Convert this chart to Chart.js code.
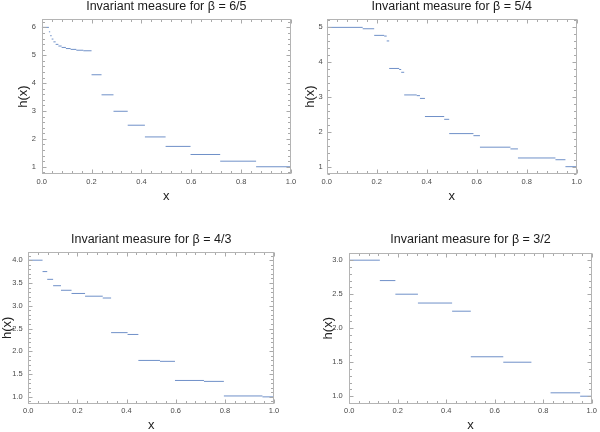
<!DOCTYPE html>
<html><head><meta charset="utf-8">
<script src="https://cdn.jsdelivr.net/npm/chart.js@4.4.0/dist/chart.umd.min.js"></script>
<style>
html,body{margin:0;padding:0;background:#fff;width:600px;height:432px;overflow:hidden}
canvas{position:absolute}
</style></head><body>
<canvas id="c1" width="300" height="216" style="left:0;top:0"></canvas>
<canvas id="c2" width="300" height="216" style="left:300px;top:0"></canvas>
<canvas id="c3" width="300" height="216" style="left:0;top:216px"></canvas>
<canvas id="c4" width="300" height="216" style="left:300px;top:216px"></canvas>
<script>
// ---- data ----
const xTicks = [0, 0.2, 0.4, 0.6, 0.8, 1.0];

const p1Title = 'Invariant measure for β = 6/5';
const p1Start = [0, 0.029, 0.034, 0.040, 0.047, 0.056, 0.067, 0.080, 0.097, 0.116, 0.139, 0.167, 0.200, 0.240, 0.288, 0.345, 0.414, 0.497, 0.597, 0.716, 0.860];
const p1End   = [0.029, 0.034, 0.040, 0.047, 0.056, 0.067, 0.080, 0.097, 0.116, 0.139, 0.167, 0.200, 0.240, 0.288, 0.345, 0.414, 0.497, 0.597, 0.716, 0.860, 1.0];
const p1Value = [6.0, 5.84, 5.70, 5.58, 5.48, 5.39, 5.33, 5.28, 5.24, 5.21, 5.18, 5.16, 4.30, 3.58, 2.99, 2.49, 2.07, 1.73, 1.44, 1.20, 1.0];
const p1YTicks = [1, 2, 3, 4, 5, 6];

const p2Title = 'Invariant measure for β = 5/4';
const p2Start = [0, 0.144, 0.190, 0.230, 0.240, 0.250, 0.290, 0.298, 0.310, 0.360, 0.373, 0.393, 0.470, 0.490, 0.587, 0.613, 0.735, 0.765, 0.915, 0.955];
const p2End   = [0.144, 0.190, 0.230, 0.240, 0.250, 0.290, 0.298, 0.310, 0.360, 0.373, 0.393, 0.470, 0.490, 0.587, 0.613, 0.735, 0.765, 0.915, 0.955, 1.0];
const p2Value = [5.0, 4.96, 4.77, 4.75, 4.61, 3.82, 3.79, 3.71, 3.06, 3.04, 2.96, 2.44, 2.36, 1.95, 1.89, 1.56, 1.51, 1.25, 1.20, 1.0];
const p2YTicks = [1, 2, 3, 4, 5];

const p3Title = 'Invariant measure for β = 4/3';
const p3Start = [0, 0.058, 0.077, 0.101, 0.133, 0.176, 0.231, 0.303, 0.337, 0.404, 0.448, 0.536, 0.597, 0.715, 0.796, 0.953];
const p3End   = [0.058, 0.077, 0.101, 0.133, 0.176, 0.231, 0.303, 0.337, 0.404, 0.448, 0.536, 0.597, 0.715, 0.796, 0.953, 1.0];
const p3Value = [4.0, 3.75, 3.58, 3.44, 3.34, 3.27, 3.21, 3.17, 2.41, 2.37, 1.80, 1.78, 1.36, 1.34, 1.02, 1.0];
const p3YTicks = [1.0, 1.5, 2.0, 2.5, 3.0, 3.5, 4.0];

const p4Title = 'Invariant measure for β = 3/2';
const p4Start = [0, 0.126, 0.190, 0.283, 0.424, 0.501, 0.635, 0.830, 0.952];
const p4End   = [0.126, 0.190, 0.283, 0.424, 0.501, 0.635, 0.751, 0.952, 1.0];
const p4Value = [3.0, 2.70, 2.50, 2.37, 2.25, 1.58, 1.50, 1.05, 1.0];
const p4YTicks = [1.0, 1.5, 2.0, 2.5, 3.0];

// ---- helpers ----
const FONT = "'Liberation Sans', Arial, sans-serif";
const LINE = '#6f90c8';

function segData(s, e, v) {
  const d = [];
  for (let i = 0; i < v.length; i++) {
    d.push({x: s[i], y: v[i]}, {x: e[i], y: v[i]}, {x: e[i], y: null});
  }
  return d;
}

function minorVals(min, max, step) {
  const out = [];
  const k0 = Math.ceil(min / step - 1e-9), k1 = Math.floor(max / step + 1e-9);
  for (let k = k0; k <= k1; k++) out.push(+(k * step).toFixed(6));
  return out;
}

const framePlugin = {
  id: 'mframe',
  afterDraw(chart) {
    const {ctx, chartArea: a, scales: {x, y}} = chart;
    const o = chart.options.plugins.mframe;
    const L = Math.round(a.left) + 0.5, R = Math.round(a.right) - 0.5;
    const T = Math.round(a.top) + 0.5, B = Math.round(a.bottom) - 0.5;
    ctx.save();
    ctx.lineWidth = 1;
    ctx.strokeStyle = '#a9a9a9';
    ctx.beginPath();
    const xm = minorVals(x.min, x.max, o.xMinor);
    xm.forEach(v => {
      const major = xTicks.some(t => Math.abs(t - v) < 1e-6);
      const len = major ? 4 : 2.5;
      const px = Math.round(x.getPixelForValue(v)) + 0.5;
      ctx.moveTo(px, B); ctx.lineTo(px, B - len);
      ctx.moveTo(px, T); ctx.lineTo(px, T + len);
    });
    const ym = minorVals(y.min, y.max, o.yMinor);
    ym.forEach(v => {
      const major = o.yMajor.some(t => Math.abs(t - v) < 1e-6);
      const len = major ? 4 : 2.5;
      const py = Math.round(y.getPixelForValue(v)) + 0.5;
      ctx.moveTo(L, py); ctx.lineTo(L + len, py);
      ctx.moveTo(R, py); ctx.lineTo(R - len, py);
    });
    ctx.stroke();
    ctx.strokeStyle = '#b4b4b4';
    ctx.strokeRect(L, T, R - L, B - T);
    ctx.restore();
  }
};

function makeChart(id, title, s, e, v, yTicks, yMin, yMax, yDec, yMinor, P) {
  return new Chart(document.getElementById(id), {
    type: 'scatter',
    data: {datasets: [{data: segData(s, e, v), showLine: true, spanGaps: false,
      borderColor: LINE, borderWidth: 1, pointRadius: 0, pointHoverRadius: 0, fill: false}]},
    plugins: [framePlugin],
    options: {
      responsive: false, animation: false, devicePixelRatio: 1,
      layout: {padding: {left: 0, right: P.padR, top: 0, bottom: 0}},
      plugins: {
        legend: {display: false}, tooltip: {enabled: false},
        title: {display: true, text: title, fullSize: false, color: '#1a1a1a',
          font: {family: FONT, size: 12.5, weight: 'normal', lineHeight: 1},
          padding: {top: P.tTop, bottom: P.tBot}},
        mframe: {xMinor: 0.04, yMinor: yMinor, yMajor: yTicks}
      },
      scales: {
        x: {type: 'linear', min: 0, max: 1,
          afterBuildTicks: sc => { sc.ticks = xTicks.map(t => ({value: t})); },
          afterFit: sc => { sc.height = P.xH; },
          grid: {display: false, drawTicks: false}, border: {display: false},
          ticks: {padding: P.xTickPad, color: '#4a4a4a', maxRotation: 0,
            font: {family: FONT, size: 7.5}, callback: val => Number(val).toFixed(1)},
          title: {display: true, text: 'x', color: '#222',
            font: {family: FONT, size: 13, lineHeight: 1}, padding: {top: 0, bottom: P.xTitlePad}}
        },
        y: {type: 'linear', min: yMin, max: yMax,
          afterBuildTicks: sc => { sc.ticks = yTicks.map(t => ({value: t})); },
          afterFit: sc => { sc.width = P.yW; },
          grid: {display: false, drawTicks: false}, border: {display: false},
          ticks: {padding: P.yTickPad, color: '#4a4a4a',
            font: {family: FONT, size: 7.5},
            callback: val => yDec ? Number(val).toFixed(1) : String(Math.round(val))},
          title: {display: true, text: 'h(x)', color: '#222',
            font: {family: FONT, size: 13, lineHeight: 1}, padding: {top: P.yTitlePad, bottom: 0}}
        }
      }
    }
  });
}

makeChart('c1', p1Title, p1Start, p1End, p1Value, p1YTicks, 0.74, 6.30, false, 0.2,
  {padR: 9, tTop: 0.25, tBot: 6.25, xH: 42, xTickPad: 3, xTitlePad: 13.5, yW: 41.7, yTickPad: 5.7, yTitlePad: 16.5});
makeChart('c2', p2Title, p2Start, p2End, p2Value, p2YTicks, 0.79, 5.24, false, 0.2,
  {padR: 23.3, tTop: 0.25, tBot: 6.25, xH: 42, xTickPad: 3, xTitlePad: 13.5, yW: 26.7, yTickPad: 4, yTitlePad: 3.5});
makeChart('c3', p3Title, p3Start, p3End, p3Value, p3YTicks, 0.85, 4.18, true, 0.1,
  {padR: 26, tTop: 17.05, tBot: 6.45, xH: 28.3, xTickPad: 3, xTitlePad: 0, yW: 28.3, yTickPad: 5.6, yTitlePad: 1.2});
makeChart('c4', p4Title, p4Start, p4End, p4Value, p4YTicks, 0.89, 3.11, true, 0.1,
  {padR: 6.7, tTop: 17.05, tBot: 7.15, xH: 28.3, xTickPad: 3, xTitlePad: 0, yW: 49.3, yTickPad: 6.6, yTitlePad: 21.5});
</script>
</body></html>
